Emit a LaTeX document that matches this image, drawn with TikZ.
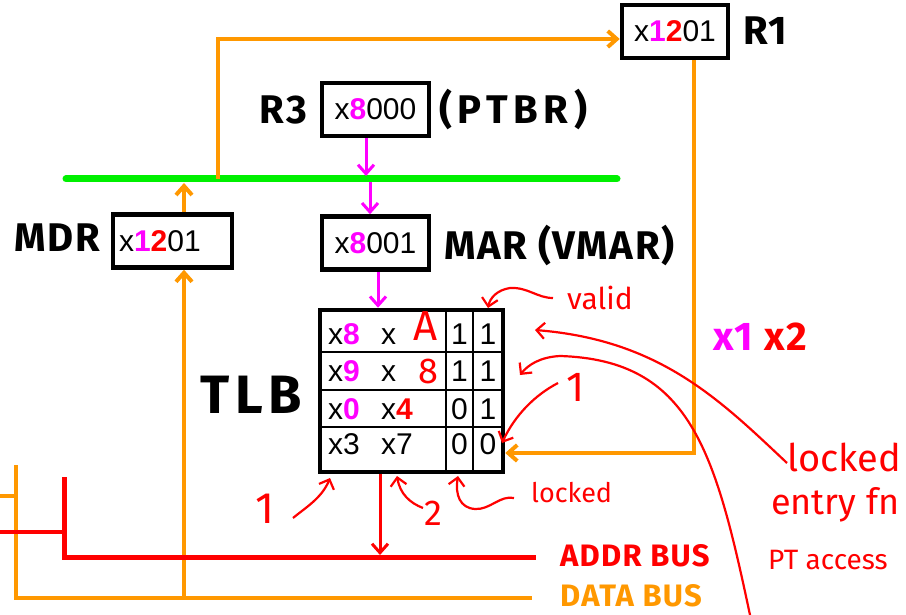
\documentclass[tikz,border=0pt]{standalone}
\usepackage{fontspec}
\setmainfont{Liberation Sans}
\newfontfamily\pennarello{Fira Sans}[LetterSpace=4]
\newfontfamily\mano{Fira Sans}
\usetikzlibrary{arrows.meta}
\definecolor{arancio}{RGB}{255,152,0}
\definecolor{verde}{RGB}{0,240,0}
\definecolor{rosso}{RGB}{255,0,0}
\definecolor{viola}{RGB}{255,0,255}
\newcommand{\cifra}[2]{\textcolor{#1}{\bfseries #2}}
\begin{document}
\begin{tikzpicture}[
    x=1pt, y=-1pt,
    font=\fontsize{30}{34}\selectfont,
    registro/.style={draw, line width=4.5pt, minimum height=53pt, inner sep=0pt},
    etichetta/.style={font=\pennarello\bfseries\fontsize{40}{44}\selectfont, inner sep=0pt},
    nota/.style={rosso, font=\mano\fontsize{30}{34}\selectfont, inner sep=0pt},
    filo/.style={arancio, line width=4pt},
    punta/.style={-{Straight Barb[length=9pt, width=16pt]}},
    tratto/.style={rosso, line width=2.2pt, -{Straight Barb[length=8pt, width=16pt]}},
  ]
  \useasboundingbox (0,0) rectangle (906,615);

  % --- registri -------------------------------------------------------
  \node[registro, minimum width=106pt] (R1) at (675,31.5) {x\cifra{viola}{1}\cifra{rosso}{2}01};
  \node[etichetta, anchor=west] (nR1) at (743,31) {R1};
  \node[registro, minimum width=107pt] (R3) at (375.5,109.5) {x\cifra{viola}{8}000};
  \node[etichetta, anchor=east] (nR3) at (307,110) {R3};
  \node[etichetta, anchor=west,
    font=\pennarello\bfseries\addfontfeature{LetterSpace=14}\fontsize{40}{44}\selectfont]
    (ptbr) at (439,110) {(PTBR)};
  \node[registro, minimum width=107pt] (MAR) at (375.5,243) {x\cifra{viola}{8}001};
  \node[etichetta, anchor=west] (nMAR) at (444,246) {MAR (VMAR)};
  \node[registro, minimum width=119pt, text width=107pt, align=left, inner xsep=6pt]
    (MDR) at (172.5,241) {x\cifra{viola}{1}\cifra{rosso}{2}01};
  \node[etichetta, anchor=east] (nMDR) at (100,238) {MDR};

  % --- il bus interno -------------------------------------------------
  \coordinate (bs) at (66,179);
  \coordinate (bd) at (617,179);
  \draw[verde, line width=7pt, line cap=round] (bs) -- (bd);

  % --- la TLB ---------------------------------------------------------
  \node[draw, line width=4.5pt, minimum width=183pt, minimum height=162pt, inner sep=0pt]
    (tlb) at (411.5,391) {};
  \node[etichetta, font=\pennarello\bfseries\addfontfeature{LetterSpace=10}\fontsize{54}{60}\selectfont]
    (ntlb) at (251,395) {TLB};
  \foreach \y in {352,390,427}{%
    \draw[line width=2.2pt] (320,\y) -- (503,\y);
  }
  \foreach \x in {446,473}{%
    \draw[line width=2.2pt] (\x,310) -- (\x,472);
  }
  \foreach \y/\a/\b/\v/\l in {333/{x\cifra{viola}{8}}/x/1/1,
      370/{x\cifra{viola}{9}}/x/1/1,
      408/{x\cifra{viola}{0}}/{x\cifra{rosso}{4}}/0/1,
      443/x3/x7/0/0}{%
    \node[anchor=base west, inner sep=0pt] (a\y) at (328,\y+11) {\a};
    \node[anchor=base west, inner sep=0pt] (b\y) at (381,\y+11) {\b};
    \node[anchor=base, inner sep=0pt] (v\y) at (459.5,\y+11) {\v};
    \node[anchor=base, inner sep=0pt] (l\y) at (488,\y+11) {\l};
  }
  \node[nota, font=\mano\fontsize{42}{46}\selectfont] (ha) at (426,326) {A};
  \node[nota, font=\mano\fontsize{36}{40}\selectfont] (h8) at (428,371) {8};

  % --- frecce viola -----------------------------------------------------
  \coordinate (m1) at (366,176);
  \coordinate (m2) at (370,182);
  \coordinate (m3) at (378,0);
  \draw[viola, line width=3pt, punta] (m1 |- R3.south) -- (m1);
  \draw[viola, line width=3pt, punta] (m2) -- (m2 |- MAR.north);
  \draw[viola, line width=3pt, punta] (m3 |- MAR.south) -- (m3 |- tlb.north);

  % --- bus dati (arancio) -----------------------------------------------
  \coordinate (su) at (218,39);
  \draw[filo, punta] (su |- bs) -- (su) -- (su -| R1.west);
  \coordinate (giu) at (694,453);
  \draw[filo, punta] (giu |- R1.south) -- (giu) -- (giu -| tlb.east);
  \coordinate (md) at (184,598);
  \coordinate (mb) at (184,183);
  \draw[filo, punta] (md) -- (md |- MDR.south);
  \draw[filo, punta] (mb |- MDR.north) -- (mb);
  \draw[filo] (16,465) -- (16,598) -- (532,598);
  \draw[filo] (0,496) -- (16,496);
  \node[etichetta, arancio, font=\pennarello\bfseries\fontsize{31}{34}\selectfont, anchor=west]
    (ndata) at (560,596) {DATA BUS};

  % --- bus indirizzi (rosso) --------------------------------------------
  \draw[rosso, line width=5pt] (64,477) -- (64,557) -- (536,557);
  \draw[rosso, line width=4pt] (0,532) -- (64,532);
  \coordinate (ab) at (380,555);
  \draw[rosso, line width=3pt, punta] (tlb.south -| ab) -- (ab);
  \node[etichetta, rosso, font=\pennarello\bfseries\fontsize{31}{34}\selectfont, anchor=west]
    (naddr) at (560,556) {ADDR BUS};

  % --- x1 x2 ------------------------------------------------------------
  \node[etichetta, font=\pennarello\bfseries\fontsize{40}{44}\selectfont, anchor=west]
    (conta) at (713,337) {\textcolor{viola}{x1} \textcolor{rosso}{x2}};

  % --- note a mano --------------------------------------------------------
  \node[nota, anchor=west] (valid) at (567,298) {valid};
  \draw[tratto] (553,298) .. controls (537,298) and (528,287) .. (510,288)
    .. controls (497,290) and (490,298) .. (488,308);
  \node[nota, font=\mano\fontsize{27}{30}\selectfont, anchor=west] (lock) at (531,493) {locked};
  \draw[tratto] (514,498) .. controls (500,495) and (490,510) .. (475,509)
    .. controls (460,508) and (455,495) .. (458,476);
  \node[nota, font=\mano\fontsize{44}{48}\selectfont] (uno) at (265,509) {1};
  \draw[tratto] (293,518) .. controls (305,508) and (322,498) .. (330,478);
  \node[nota, font=\mano\fontsize{36}{40}\selectfont] (due) at (433,513) {2};
  \draw[tratto] (423,508) .. controls (410,503) and (400,494) .. (397,476);
  \node[nota, font=\mano\fontsize{42}{46}\selectfont] (uno2) at (576,387) {1};
  \draw[tratto] (558,383) .. controls (535,395) and (515,415) .. (502,443);
  \draw[tratto] (750,615) .. controls (715,450) and (690,360) .. (560,356)
    .. controls (540,357) and (528,365) .. (520,375);

  % --- locked entry fn PT access ------------------------------------------
  \node[nota, font=\mano\fontsize{38}{42}\selectfont, anchor=west] (lock2) at (787,457) {locked};
  \node[nota, font=\mano\fontsize{36}{40}\selectfont, anchor=west] (entry) at (771,505) {entry fn};
  \node[nota, font=\mano\fontsize{28}{32}\selectfont, anchor=west] (pta) at (768,560) {PT access};
  \draw[tratto] (787,463) .. controls (720,400) and (660,340) .. (535,330);

\end{tikzpicture}
\end{document}
